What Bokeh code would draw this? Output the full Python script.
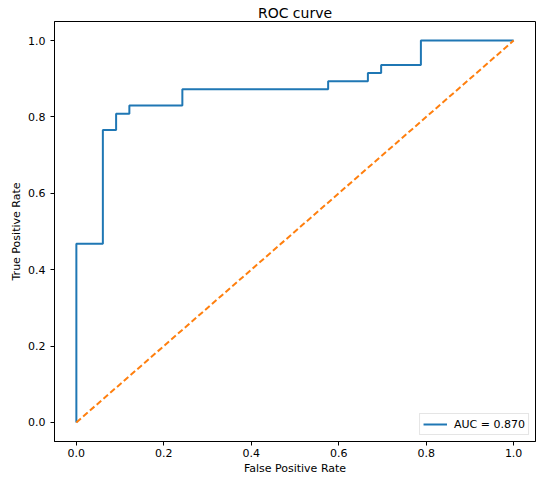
from bokeh.plotting import figure
from bokeh.embed import file_html
from bokeh.resources import INLINE
from bokeh.models import Legend, LegendItem, FixedTicker, PrintfTickFormatter, Range1d

fpr = [0.0, 0.0, 0.0606, 0.0606, 0.0909, 0.0909, 0.1212, 0.1212, 0.2424, 0.2424,
       0.5758, 0.5758, 0.6667, 0.6667, 0.6970, 0.6970, 0.7879, 0.7879, 1.0]
tpr = [0.0, 0.4681, 0.4681, 0.7660, 0.7660, 0.8085, 0.8085, 0.8298, 0.8298, 0.8723,
       0.8723, 0.8936, 0.8936, 0.9149, 0.9149, 0.9362, 0.9362, 1.0, 1.0]
diag_x = [0.0, 1.0]
diag_y = [0.0, 1.0]
auc_label = "AUC = 0.870"
ticks = [0.0, 0.2, 0.4, 0.6, 0.8, 1.0]

FONT = "DejaVu Sans"

p = figure(width=542, height=479, output_backend="svg", toolbar_location=None,
           x_range=Range1d(-0.05, 1.05), y_range=Range1d(-0.05, 1.05),
           min_border_left=54, min_border_right=7, min_border_top=21, min_border_bottom=38,
           title="ROC curve")
p.title.text_font = FONT
p.title.text_font_size = "14px"
p.title.text_font_style = "normal"
p.title.text_color = "black"
p.title.align = "center"
p.title.standoff = 1
p.title.offset = 0

p.xgrid.visible = False
p.ygrid.visible = False
p.outline_line_color = "black"
p.outline_line_width = 1
p.background_fill_color = "white"
p.border_fill_color = "white"

for ax in (p.xaxis[0], p.yaxis[0]):
    ax.ticker = FixedTicker(ticks=ticks)
    ax.formatter = PrintfTickFormatter(format="%.1f")
    ax.minor_tick_line_color = None
    ax.major_tick_out = 4
    ax.major_tick_in = 0
    ax.major_tick_line_color = "black"
    ax.axis_line_color = "black"
    ax.major_label_text_font = FONT
    ax.major_label_text_font_size = "11px"
    ax.major_label_text_color = "black"
    ax.axis_label_text_font = FONT
    ax.axis_label_text_font_size = "11px"
    ax.axis_label_text_font_style = "normal"
    ax.axis_label_text_color = "black"

p.xaxis.axis_label = "False Positive Rate"
p.yaxis.axis_label = "True Positive Rate"
p.xaxis.major_label_standoff = 3
p.yaxis.major_label_standoff = 5
p.xaxis.axis_label_standoff = 2
p.yaxis.axis_label_standoff = 2

roc = p.line(fpr, tpr, line_color="#1f77b4", line_width=2)
p.line(diag_x, diag_y, line_color="#ff7f0e", line_width=2, line_dash="6 3")

legend = Legend(items=[LegendItem(label=auc_label, renderers=[roc])],
                location="bottom_right")
legend.label_text_font = FONT
legend.label_text_font_size = "11px"
legend.label_text_color = "black"
legend.border_line_color = "#cccccc"
legend.border_line_width = 1
legend.background_fill_alpha = 0.8
legend.margin = 6
legend.padding = 3
legend.glyph_width = 24
legend.glyph_height = 14
legend.label_standoff = 7
legend.spacing = 0
legend.label_height = 14
p.add_layout(legend)

open("out.html", "w").write(file_html(p, INLINE))
